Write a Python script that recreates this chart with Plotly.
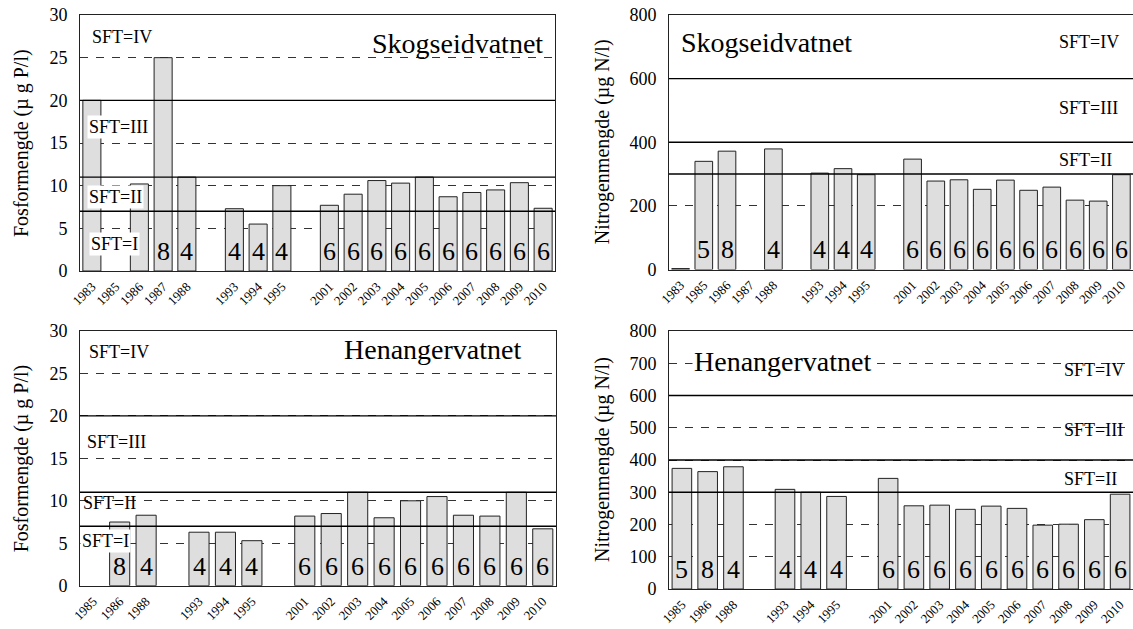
import plotly.graph_objects as go

# Sampling years ("" entries keep the empty slots between survey periods)
years_skog = ["1983", "1985", "1986", "1987", "1988", "", "1993", "1994", "1995", "",
              "2001", "2002", "2003", "2004", "2005", "2006", "2007", "2008", "2009", "2010"]
years_hen = ["1985", "1986", "1988", "", "1993", "1994", "1995", "",
             "2001", "2002", "2003", "2004", "2005", "2006", "2007", "2008", "2009", "2010"]

# Total phosphorus (µg P/l)
tp_skog = [20, None, 10.2, 25, 11, None, 7.3, 5.5, 10, None,
           7.7, 9.0, 10.6, 10.3, 11.0, 8.7, 9.2, 9.5, 10.35, 7.35]
tp_hen = [None, 7.5, 8.3, None, 6.3, 6.3, 5.3, None,
          8.2, 8.5, 11.0, 8.0, 10.0, 10.5, 8.3, 8.2, 11.0, 6.7]

# Total nitrogen (µg N/l)
tn_skog = [3, 340, 372, None, 379, None, 303, 317, 298, None,
           347, 278, 282, 252, 281, 249, 259, 218, 215, 298]
tn_hen = [374, 364, 379, None, 309, 300, 287, None,
          343, 258, 260, 247, 257, 250, 198, 201, 215, 294]

# Number of samples per year
n_tp_skog = [None, None, None, 8, 4, None, 4, 4, 4, None] + [6] * 10
n_tn_skog = [None, 5, 8, None, 4, None, 4, 4, 4, None] + [6] * 10
n_tp_hen = [None, 8, 4, None, 4, 4, 4, None] + [6] * 10
n_tn_hen = [5, 8, 4, None, 4, 4, 4, None] + [6] * 10

# SFT class limits
tp_limits = [7, 11, 20]
tn_limits = [300, 400, 600]

FONT = "Liberation Serif, Times New Roman, serif"
W, H = 1133, 629

panels = [
    dict(years=years_skog, vals=tp_skog, n=n_tp_skog, lim=tp_limits, yr=30, dt=5,
         title="Fosformengde (µ g P/l)", dx=[80 / W, 555 / W], dy=[(H - 271) / H, (H - 15) / H]),
    dict(years=years_skog, vals=tn_skog, n=n_tn_skog, lim=tn_limits, yr=800, dt=200,
         title="Nitrogenmengde (µg N/l)", dx=[669 / W, 1.0], dy=[(H - 269.5) / H, (H - 15) / H]),
    dict(years=years_hen, vals=tp_hen, n=n_tp_hen, lim=tp_limits, yr=30, dt=5,
         title="Fosformengde (µ g P/l)", dx=[80 / W, 556 / W], dy=[(H - 585.7) / H, (H - 331) / H]),
    dict(years=years_hen, vals=tn_hen, n=n_tn_hen, lim=tn_limits, yr=800, dt=100,
         title="Nitrogenmengde (µg N/l)", dx=[669 / W, 1.0], dy=[(H - 589) / H, (H - 331) / H]),
]

fig = go.Figure()
shapes = []
annotations = []

for i, p in enumerate(panels, start=1):
    xa = "x" if i == 1 else f"x{i}"
    ya = "y" if i == 1 else f"y{i}"
    slots = list(range(len(p["years"])))
    fig.add_trace(go.Bar(
        x=slots, y=p["vals"], xaxis=xa, yaxis=ya,
        marker=dict(color="#dedede", line=dict(color="#222222", width=1)),
        showlegend=False, hovertext=p["years"], hoverinfo="text+y",
    ))
    fig.update_layout(**{
        ("xaxis" if i == 1 else f"xaxis{i}"): dict(
            domain=p["dx"], anchor=ya, range=[-0.5, len(slots) - 0.5], automargin=False,
            tickmode="array", tickvals=slots, ticktext=p["years"], tickangle=-45,
            tickfont=dict(family=FONT, size=13, color="black"), ticklabelstandoff=2,
            showline=True, linecolor="#222222", linewidth=1, mirror=True,
            showgrid=False, zeroline=False, ticks="", fixedrange=True,
        ),
        ("yaxis" if i == 1 else f"yaxis{i}"): dict(
            domain=p["dy"], anchor=xa, range=[0, p["yr"]], dtick=p["dt"], automargin=False,
            tickfont=dict(family=FONT, size=18, color="black"),
            showline=True, linecolor="#222222", linewidth=1, mirror=True,
            showgrid=True, gridcolor="#333333", gridwidth=1, griddash="8px,8px",
            zeroline=False, ticks="", ticklabelstandoff=8, fixedrange=True,
        ),
    })
    # solid SFT class boundaries drawn over the bars
    for lim in p["lim"]:
        shapes.append(dict(type="line", xref=f"{xa} domain", yref=ya, x0=0, x1=1,
                           y0=lim, y1=lim, layer="above",
                           line=dict(color="black", width=1.4)))
    # sample counts inside the bars
    for s, n in zip(slots, p["n"]):
        if n is None:
            continue
        annotations.append(dict(x=s, y=0.077, xref=xa, yref=f"{ya} domain",
                                text=str(n), showarrow=False, yanchor="middle",
                                font=dict(family=FONT, size=26, color="black")))
    # y axis title
    xt = 21 / W if p["dx"][0] < 0.5 else 602 / W
    annotations.append(dict(x=xt, y=sum(p["dy"]) / 2, xref="paper", yref="paper",
                            text=p["title"], textangle=-90, showarrow=False,
                            xanchor="center", yanchor="middle",
                            font=dict(family=FONT, size=20, color="black")))


def label(ax, x, y, text, size=18, xanchor="left", bg="white"):
    xa = "x" if ax == 1 else f"x{ax}"
    ya = "y" if ax == 1 else f"y{ax}"
    annotations.append(dict(x=x, y=y, xref=f"{xa} domain", yref=ya, text=text,
                            showarrow=False, xanchor=xanchor, yanchor="middle",
                            bgcolor=bg, borderpad=1,
                            font=dict(family=FONT, size=size, color="black")))


CLEAR = "rgba(0,0,0,0)"
# Skogseidvatnet, phosphorus
label(1, 0.022, 27.4, "SFT=IV")
label(1, 0.014, 16.9, "SFT=III")
label(1, 0.014, 8.7, "SFT=II")
label(1, 0.018, 3.2, "SFT=I")
label(1, 0.978, 26.7, "Skogseidvatnet", size=28, xanchor="right", bg=CLEAR)
# Skogseidvatnet, nitrogen
label(2, 0.836, 715, "SFT=IV", bg=CLEAR)
label(2, 0.836, 507, "SFT=III", bg=CLEAR)
label(2, 0.836, 344, "SFT=II", bg=CLEAR)
label(2, 0.021, 715, "Skogseidvatnet", size=28, bg=CLEAR)
# Henangervatnet, phosphorus
label(3, 0.014, 27.5, "SFT=IV")
label(3, 0.010, 16.9, "SFT=III")
label(3, 0.002, 9.8, "SFT=II", bg=CLEAR)
label(3, 0.001, 5.3, "SFT=I")
label(3, 0.55, 27.8, "Henangervatnet", size=28, bg=CLEAR)
# Henangervatnet, nitrogen
label(4, 0.846, 679, "SFT=IV", bg=CLEAR)
label(4, 0.846, 493, "SFT=III", bg=CLEAR)
label(4, 0.846, 341, "SFT=II", bg=CLEAR)
label(4, 0.049, 704, "Henangervatnet", size=28)

fig.update_layout(
    width=W, height=H, margin=dict(l=0, r=0, t=0, b=0),
    paper_bgcolor="white", plot_bgcolor="white",
    bargap=0.24, shapes=shapes, annotations=annotations,
    font=dict(family=FONT, color="black"),
)

fig.write_html("out.html")
